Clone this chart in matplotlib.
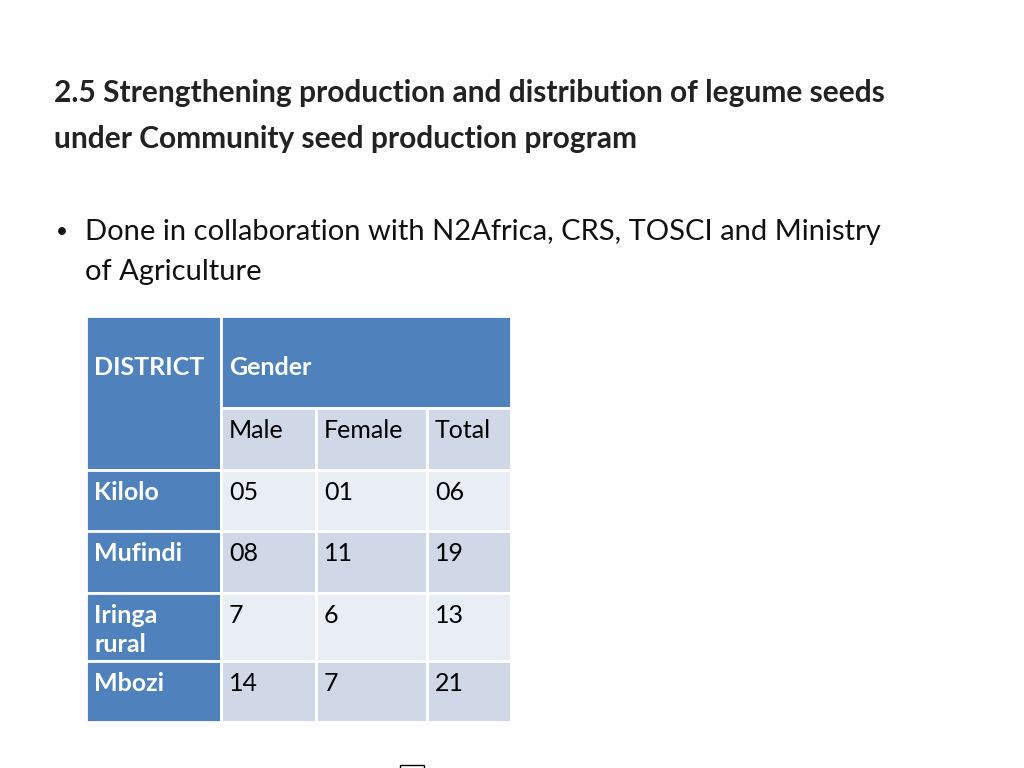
import matplotlib.pyplot as plt
from matplotlib.patches import Rectangle

# Table data
districts = ["Kilolo", "Mufindi", "Iringa\nrural", "Mbozi"]
genders = ["Male", "Female", "Total"]
male = ["05", "08", "7", "14"]
female = ["01", "11", "6", "7"]
total = ["06", "19", "13", "21"]

title = "2.5 Strengthening production and distribution of legume seeds\nunder Community seed production program"
bullet = "Done in collaboration with N2Africa, CRS, TOSCI and Ministry\nof Agriculture"

FONT = "Lato"
BLUE = "#4F81BD"
DARK = "#D0D8E8"
LIGHT = "#E9EDF4"

fig = plt.figure(figsize=(10.24, 7.68), dpi=100)
ax = fig.add_axes([0, 0, 1, 1])
ax.set_xlim(0, 1024)
ax.set_ylim(768, 0)
ax.axis("off")

ax.text(54, 116, title, fontsize=21.5, fontweight="bold", family=FONT,
        va="center", ha="left", linespacing=1.75, color="#222222")
ax.text(56, 232, "•", fontsize=15, family=FONT, va="center", color="#111111")
ax.text(85, 252, bullet, fontsize=21, family=FONT, va="center",
        linespacing=1.7, color="#111111")

cols = [86, 221, 316, 427, 511]
rows = [316, 408, 470, 531, 593, 661, 722]

def cell(x0, x1, y0, y1, color):
    ax.add_patch(Rectangle((x0, y0), x1 - x0, y1 - y0, facecolor=color,
                           edgecolor="white", linewidth=2))

def txt(x, y, s, bold=False, color="black"):
    ax.text(x + 8, y + 11, s, fontsize=18, family=FONT, va="top", ha="left",
            fontweight="bold" if bold else "normal", color=color, linespacing=1.3)

# header
cell(cols[0], cols[1], rows[0], rows[2], BLUE)
cell(cols[1], cols[4], rows[0], rows[1], BLUE)
txt(cols[0], rows[0] + 29, "DISTRICT", True, "white")
txt(cols[1], rows[0] + 29, "Gender", True, "white")
for j, g in enumerate(genders):
    cell(cols[j + 1], cols[j + 2], rows[1], rows[2], DARK)
    txt(cols[j + 1], rows[1], g)

for i, d in enumerate(districts):
    y0, y1 = rows[i + 2], rows[i + 3]
    shade = LIGHT if i % 2 == 0 else DARK
    cell(cols[0], cols[1], y0, y1, BLUE)
    txt(cols[0], y0, d, True, "white")
    for j, v in enumerate([male[i], female[i], total[i]]):
        cell(cols[j + 1], cols[j + 2], y0, y1, shade)
        txt(cols[j + 1], y0, v)

ax.add_patch(Rectangle((400, 765), 24, 10, facecolor="none", edgecolor="black", linewidth=1))

fig.savefig("out.png", dpi=100)
